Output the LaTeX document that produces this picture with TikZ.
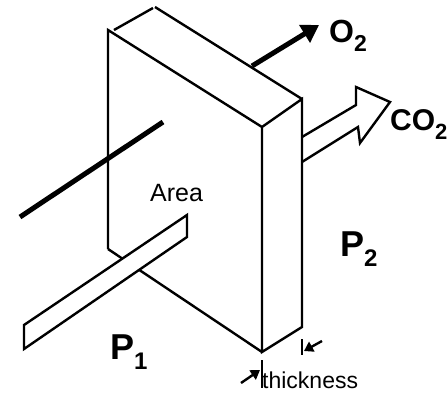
\documentclass[tikz,border=0pt]{standalone}
\usepackage{fontspec}
\setmainfont{Liberation Sans}
\usetikzlibrary{arrows.meta,positioning,calc}
\newcommand{\gaslabel}[4]{\fontsize{#3}{#3}\selectfont\bfseries #1\raisebox{-0.3em}{\fontsize{#4}{#4}\selectfont #2}}
\tikzset{
  slabline/.style={line width=2.4pt,line join=miter},
  thickline/.style={line width=5pt},
  flowarrow/.style={-{Triangle[length=17pt,width=20pt]},line width=5pt},
  dimarrow/.style={-{Triangle[length=9pt,width=11pt]},line width=2.4pt},
  smalltext/.style={inner sep=0pt,anchor=base west,font=\fontsize{25}{25}\selectfont},
  gastext/.style={inner sep=0pt,anchor=base west}
}
\begin{document}
\begin{tikzpicture}[x=1pt,y=-1pt]
  \useasboundingbox (0,0) rectangle (448,392);
  % slab corners
  \coordinate (fronttl) at (108,30);
  \coordinate (gapa) at (114,30);
  \coordinate (gapb) at (153,8);
  \coordinate (backtl) at (155,7);
  \coordinate (backtr) at (302,99);
  \coordinate (fronttr) at (262,127);
  \coordinate (frontbl) at (108,249);
  \coordinate (frontbr) at (262,352);
  \coordinate (backbr) at (302,327);
  % flows behind the slab
  \coordinate (o2start) at (252,66);
  \coordinate (o2tip) at (319,25);
  \draw[flowarrow] (o2start) -- (o2tip);
  \node[gastext] (o2) at (329,42) {\gaslabel{O}{2}{32}{23}};
  \draw[slabline,fill=white] (302,137) -- (356,105) -- (356,87) -- (390,102) -- (360,143) -- (358,127) -- (302,162);
  \node[gastext] (co2) at (390,130) {\gaslabel{CO}{2}{30}{22}};
  % slab
  \draw[slabline] (frontbl) -- (fronttl) -- (fronttr) -- (frontbr) -- (backbr) -- (backtr) -- (fronttr);
  \draw[slabline] (gapa) -- (gapb);
  \draw[slabline] (backtl) -- (backtr);
  \draw[slabline] (frontbl) -- (frontbr);
  % flow line and area
  \coordinate (linestart) at (20,217);
  \coordinate (lineend) at (163,122);
  \draw[thickline] (linestart) -- (lineend);
  \draw[slabline,fill=white] (187,215) -- (187,237) -- (24,349) -- (24,325) -- cycle;
  \node[smalltext] (area) at (150,201) {Area};
  \node[gastext] (p1) at (110,359) {\gaslabel{P}{1}{36}{24}};
  \node[gastext] (p2) at (340,256) {\gaslabel{P}{2}{36}{24}};
  % thickness
  \coordinate (tickla) at (262,360);
  \coordinate (ticklb) at (262,388);
  \coordinate (tickra) at (302,339);
  \coordinate (tickrb) at (302,355);
  \draw[slabline] (tickla) -- (ticklb);
  \draw[slabline] (tickra) -- (tickrb);
  \coordinate (dimlstart) at (241,383);
  \coordinate (dimlend) at (260,370);
  \coordinate (dimrstart) at (322,341);
  \coordinate (dimrend) at (304,351);
  \draw[dimarrow] (dimlstart) -- (dimlend);
  \draw[dimarrow] (dimrstart) -- (dimrend);
  \node[smalltext,font=\fontsize{23}{23}\selectfont] (thick) at (262,388) {thickness};
\end{tikzpicture}
\end{document}
